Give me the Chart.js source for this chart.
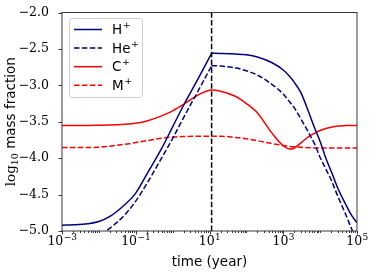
<!DOCTYPE html>
<html>
<head>
<meta charset="utf-8">
<script src="https://cdn.jsdelivr.net/npm/chart.js@4.4.1/dist/chart.umd.min.js"></script>
<style>
  html, body { margin: 0; padding: 0; background: #fff; }
</style>
</head>
<body>
<canvas id="chart" width="374" height="277"></canvas>
<script>
// time in years (log axis)
const times = [0.001, 0.002, 0.005, 0.01, 0.02, 0.05, 0.1, 0.2, 0.5, 1, 2, 5, 11.4, 20, 50, 100, 200, 500,
  1000, 1500, 2000, 3000, 5000, 7000, 10000, 15000, 20000, 30000, 50000, 70000, 100000];

// log10 mass fraction
const hPlus = [-4.92, -4.915, -4.90, -4.87, -4.80, -4.64, -4.48, -4.22, -3.87, -3.57, -3.27, -2.90, -2.56, -2.563, -2.57,
  -2.58, -2.61, -2.69, -2.79, -2.88, -2.96, -3.10, -3.38, -3.58, -3.77, -4.03, -4.18, -4.41, -4.64, -4.78, -4.885];
const hePlus = [-5.13, -5.12, -5.10, -5.06, -4.96, -4.78, -4.59, -4.35, -4.00, -3.73, -3.44, -3.07, -2.731, -2.735, -2.76,
  -2.80, -2.86, -2.99, -3.12, -3.23, -3.31, -3.46, -3.66, -3.80, -3.99, -4.17, -4.30, -4.52, -4.78, -4.96, -5.15];
const cPlus = [-3.55, -3.55, -3.55, -3.548, -3.545, -3.535, -3.52, -3.49, -3.42, -3.35, -3.26, -3.13, -3.063, -3.08, -3.15,
  -3.25, -3.38, -3.66, -3.83, -3.875, -3.86, -3.79, -3.70, -3.66, -3.62, -3.59, -3.575, -3.56, -3.553, -3.55, -3.55];
const mPlus = [-3.855, -3.855, -3.853, -3.85, -3.835, -3.81, -3.785, -3.76, -3.725, -3.71, -3.703, -3.70, -3.70, -3.70, -3.715,
  -3.735, -3.76, -3.80, -3.825, -3.84, -3.845, -3.85, -3.857, -3.86, -3.86, -3.86, -3.86, -3.86, -3.86, -3.86, -3.86];

const tMark = 11.4;
const yRange = [-5, -2];

const xMajorExp = [-3, -1, 1, 3, 5];
const yTickVals = [-2.0, -2.5, -3.0, -3.5, -4.0, -4.5, -5.0];

const names = ['H', 'He', 'C', 'M'];

const NAVY = '#000080', RED = '#ff0000';
const DASH = [5.5, 2.4];
const SERIF = '"DejaVu Serif", serif';
const SANS = '"DejaVu Sans", sans-serif';

const iMark = times.indexOf(tMark);
const pts = (ys, from = 0, to = times.length) =>
  times.slice(from, to).map((t, i) => ({ x: t, y: ys[from + i] }));

const legendStyles = [
  { color: NAVY, dash: [] }, { color: NAVY, dash: DASH },
  { color: RED, dash: [] }, { color: RED, dash: DASH },
];

// frame, tick marks, x tick labels, axis titles, legend
const decor = {
  id: 'decor',
  afterDraw(chart) {
    const { ctx, chartArea: a, scales } = chart;
    const xs = scales.x, ys = scales.y;
    ctx.save();
    ctx.strokeStyle = '#222';
    ctx.lineWidth = 0.9;
    ctx.strokeRect(a.left, a.top, a.right - a.left, a.bottom - a.top);

    // x ticks
    for (let e = -3; e <= 5; e++) {
      for (let m = 1; m <= 9; m++) {
        const v = m * Math.pow(10, e);
        if (v > 1e5 * 1.0001) break;
        const px = Math.round(xs.getPixelForValue(v)) + 0.5;
        const major = m === 1 && xMajorExp.includes(e);
        ctx.beginPath();
        ctx.moveTo(px, a.bottom);
        ctx.lineTo(px, a.bottom + (major ? 3.5 : 2));
        ctx.stroke();
      }
    }
    // y ticks
    yTickVals.forEach(v => {
      const py = Math.round(ys.getPixelForValue(v)) + 0.5;
      ctx.beginPath();
      ctx.moveTo(a.left, py);
      ctx.lineTo(a.left - 3.5, py);
      ctx.stroke();
    });

    // x tick labels 10^n
    ctx.fillStyle = '#000';
    ctx.textBaseline = 'alphabetic';
    xMajorExp.forEach(e => {
      const px = xs.getPixelForValue(Math.pow(10, e));
      const base = '10', sup = (e < 0 ? '\u2212' : '') + Math.abs(e);
      ctx.font = '12.5px ' + SERIF;
      const wb = ctx.measureText(base).width;
      ctx.font = '9px ' + SERIF;
      const ws = ctx.measureText(sup).width;
      const x0 = px - (wb + ws) / 2;
      ctx.textAlign = 'left';
      ctx.font = '12.5px ' + SERIF;
      ctx.fillText(base, x0, a.bottom + 14);
      ctx.font = '9px ' + SERIF;
      ctx.fillText(sup, x0 + wb + 0.5, a.bottom + 8.5);
    });

    // x title
    ctx.font = '13.5px ' + SANS;
    ctx.textAlign = 'center';
    ctx.fillText('time (year)', (a.left + a.right) / 2, 266);

    // y title: log_10 mass fraction
    ctx.save();
    ctx.translate(15, (a.top + a.bottom) / 2);
    ctx.rotate(-Math.PI / 2);
    ctx.textAlign = 'left';
    ctx.font = '13.5px ' + SERIF;
    const w1 = ctx.measureText('log').width;
    ctx.font = '9.5px ' + SERIF;
    const w2 = ctx.measureText('10').width;
    ctx.font = '13.5px ' + SANS;
    const w3 = ctx.measureText(' mass fraction').width;
    let x = -(w1 + w2 + w3) / 2;
    ctx.font = '13.5px ' + SERIF;
    ctx.fillText('log', x, 0);
    x += w1;
    ctx.font = '9.5px ' + SERIF;
    ctx.fillText('10', x, 3);
    x += w2;
    ctx.font = '13.5px ' + SANS;
    ctx.fillText(' mass fraction', x, 0);
    ctx.restore();

    // legend
    const lx = 69, ly = 18, lw = 73, lh = 79;
    ctx.beginPath();
    ctx.roundRect(lx + 0.5, ly + 0.5, lw, lh, 3);
    ctx.fillStyle = 'rgba(255,255,255,0.8)';
    ctx.fill();
    ctx.strokeStyle = '#cccccc';
    ctx.lineWidth = 1;
    ctx.stroke();
    legendStyles.forEach((st, i) => {
      const yy = 29.5 + i * 18.6;
      ctx.beginPath();
      ctx.strokeStyle = st.color;
      ctx.lineWidth = 1.5;
      ctx.setLineDash(st.dash);
      ctx.moveTo(74, yy);
      ctx.lineTo(102, yy);
      ctx.stroke();
      ctx.setLineDash([]);
      ctx.fillStyle = '#000';
      ctx.textAlign = 'left';
      ctx.textBaseline = 'middle';
      ctx.font = '13.5px ' + SANS;
      ctx.fillText(names[i], 112, yy + 1);
      const wn = ctx.measureText(names[i]).width;
      ctx.font = '9.5px ' + SANS;
      ctx.fillText('+', 112 + wn + 0.5, yy - 4);
    });
    ctx.restore();
  }
};

const smooth = { borderWidth: 1.5, cubicInterpolationMode: 'monotone' };

new Chart(document.getElementById('chart'), {
  type: 'line',
  data: {
    datasets: [
      // H+ and He+ have a sharp corner at tMark, so each is drawn in two pieces
      { label: 'H+', data: pts(hPlus, 0, iMark + 1), borderColor: NAVY, ...smooth },
      { label: 'H+', data: pts(hPlus, iMark), borderColor: NAVY, ...smooth },
      { label: 'He+', data: pts(hePlus, 0, iMark + 1), borderColor: NAVY, borderDash: DASH, ...smooth },
      { label: 'He+', data: pts(hePlus, iMark), borderColor: NAVY, borderDash: DASH, ...smooth },
      { label: 'C+', data: pts(cPlus), borderColor: RED, borderDash: [], ...smooth },
      { label: 'M+', data: pts(mPlus), borderColor: RED, borderDash: DASH, ...smooth },
      { label: 'mark', data: [{ x: tMark, y: yRange[0] }, { x: tMark, y: yRange[1] }], borderColor: '#000',
        borderWidth: 1.5, borderDash: DASH, order: -1 },
    ],
  },
  options: {
    responsive: false,
    devicePixelRatio: 1,
    animation: false,
    layout: { padding: { top: 11, right: 17, bottom: 0, left: 0 } },
    elements: { point: { radius: 0 } },
    plugins: { legend: { display: false }, tooltip: { enabled: false } },
    scales: {
      x: {
        type: 'logarithmic', min: 1e-3, max: 1e5,
        grid: { display: false }, border: { display: false },
        ticks: { display: false },
        afterFit: s => { s.height = 46; },
      },
      y: {
        min: yRange[0], max: yRange[1],
        grid: { display: false }, border: { display: false },
        ticks: {
          stepSize: 0.5, padding: 5, color: '#000',
          font: { family: 'DejaVu Serif', size: 12.5 },
          callback: v => (v < 0 ? '\u2212' : '') + Math.abs(v).toFixed(1),
        },
        afterFit: s => { s.width = 62; },
      },
    },
  },
  plugins: [decor],
});
</script>
</body>
</html>
